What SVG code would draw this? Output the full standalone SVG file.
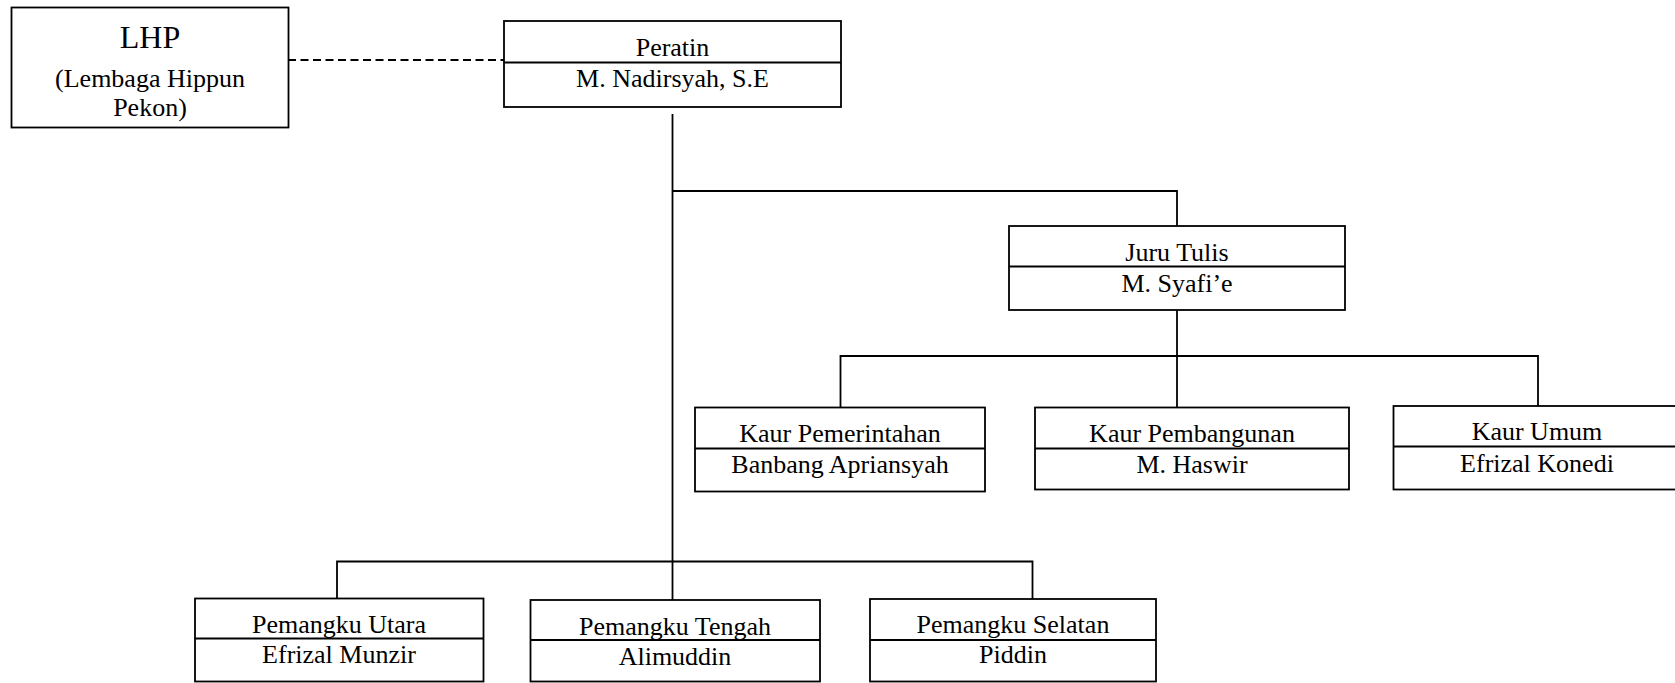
<svg xmlns="http://www.w3.org/2000/svg" width="1675" height="683" viewBox="0 0 1675 683">
<style>
.box{fill:#fff;stroke:#000;stroke-width:1.8}
.div{stroke:#000;stroke-width:1.8}
.ln{fill:none;stroke:#000;stroke-width:1.8}
.dash{fill:none;stroke:#000;stroke-width:1.8;stroke-dasharray:8 4.5}
text{font-family:"Liberation Serif","Times New Roman",serif;font-size:26px;fill:#000;text-anchor:middle}
</style>
<rect width="1675" height="683" fill="#fff"/>
<g id="connectors">
<line class="dash" x1="288" y1="60" x2="504" y2="60"/>
<polyline class="ln" points="672.5,114 672.5,600"/>
<polyline class="ln" points="672.5,191 1177,191 1177,226"/>
<polyline class="ln" points="1177,310 1177,407"/>
<polyline class="ln" points="840.5,407 840.5,356 1538,356 1538,406"/>
<polyline class="ln" points="337,598 337,561.5 1032.5,561.5 1032.5,599"/>
</g>
<g id="lhp">
<rect class="box" x="11.5" y="7.5" width="277" height="120"/>
<text x="150" y="47.5" style="font-size:32px">LHP</text>
<text x="150" y="87">(Lembaga Hippun</text>
<text x="150" y="116">Pekon)</text>
</g>
<g id="peratin">
<rect class="box" x="504" y="21" width="337" height="86"/>
<line class="div" x1="504" y1="62.5" x2="841" y2="62.5"/>
<text x="672.5" y="56">Peratin</text>
<text x="672.5" y="87">M. Nadirsyah, S.E</text>
</g>
<g id="juru-tulis">
<rect class="box" x="1009" y="226" width="336" height="84"/>
<line class="div" x1="1009" y1="266.5" x2="1345" y2="266.5"/>
<text x="1177" y="260.5">Juru Tulis</text>
<text x="1177" y="291.5">M. Syafi’e</text>
</g>
<g id="kaur-pemerintahan">
<rect class="box" x="695" y="407.5" width="290" height="84"/>
<line class="div" x1="695" y1="448.5" x2="985" y2="448.5"/>
<text x="840" y="441.5">Kaur Pemerintahan</text>
<text x="840" y="473">Banbang Apriansyah</text>
</g>
<g id="kaur-pembangunan">
<rect class="box" x="1035" y="407.5" width="314" height="82"/>
<line class="div" x1="1035" y1="448.5" x2="1349" y2="448.5"/>
<text x="1192" y="441.5">Kaur Pembangunan</text>
<text x="1192" y="473">M. Haswir</text>
</g>
<g id="kaur-umum">
<rect class="box" x="1393.5" y="406" width="287" height="83.5"/>
<line class="div" x1="1393.5" y1="446.5" x2="1680" y2="446.5"/>
<text x="1537" y="440">Kaur Umum</text>
<text x="1537" y="471.5">Efrizal Konedi</text>
</g>
<g id="pemangku-utara">
<rect class="box" x="195" y="598.5" width="288.5" height="83"/>
<line class="div" x1="195" y1="638.5" x2="483.5" y2="638.5"/>
<text x="339" y="632.5">Pemangku Utara</text>
<text x="339" y="663">Efrizal Munzir</text>
</g>
<g id="pemangku-tengah">
<rect class="box" x="530.5" y="600" width="289.5" height="81.5"/>
<line class="div" x1="530.5" y1="640" x2="820" y2="640"/>
<text x="675" y="635">Pemangku Tengah</text>
<text x="675" y="665">Alimuddin</text>
</g>
<g id="pemangku-selatan">
<rect class="box" x="870" y="599" width="286" height="82.5"/>
<line class="div" x1="870" y1="640" x2="1156" y2="640"/>
<text x="1013" y="632.5">Pemangku Selatan</text>
<text x="1013" y="662.5">Piddin</text>
</g>
</svg>
